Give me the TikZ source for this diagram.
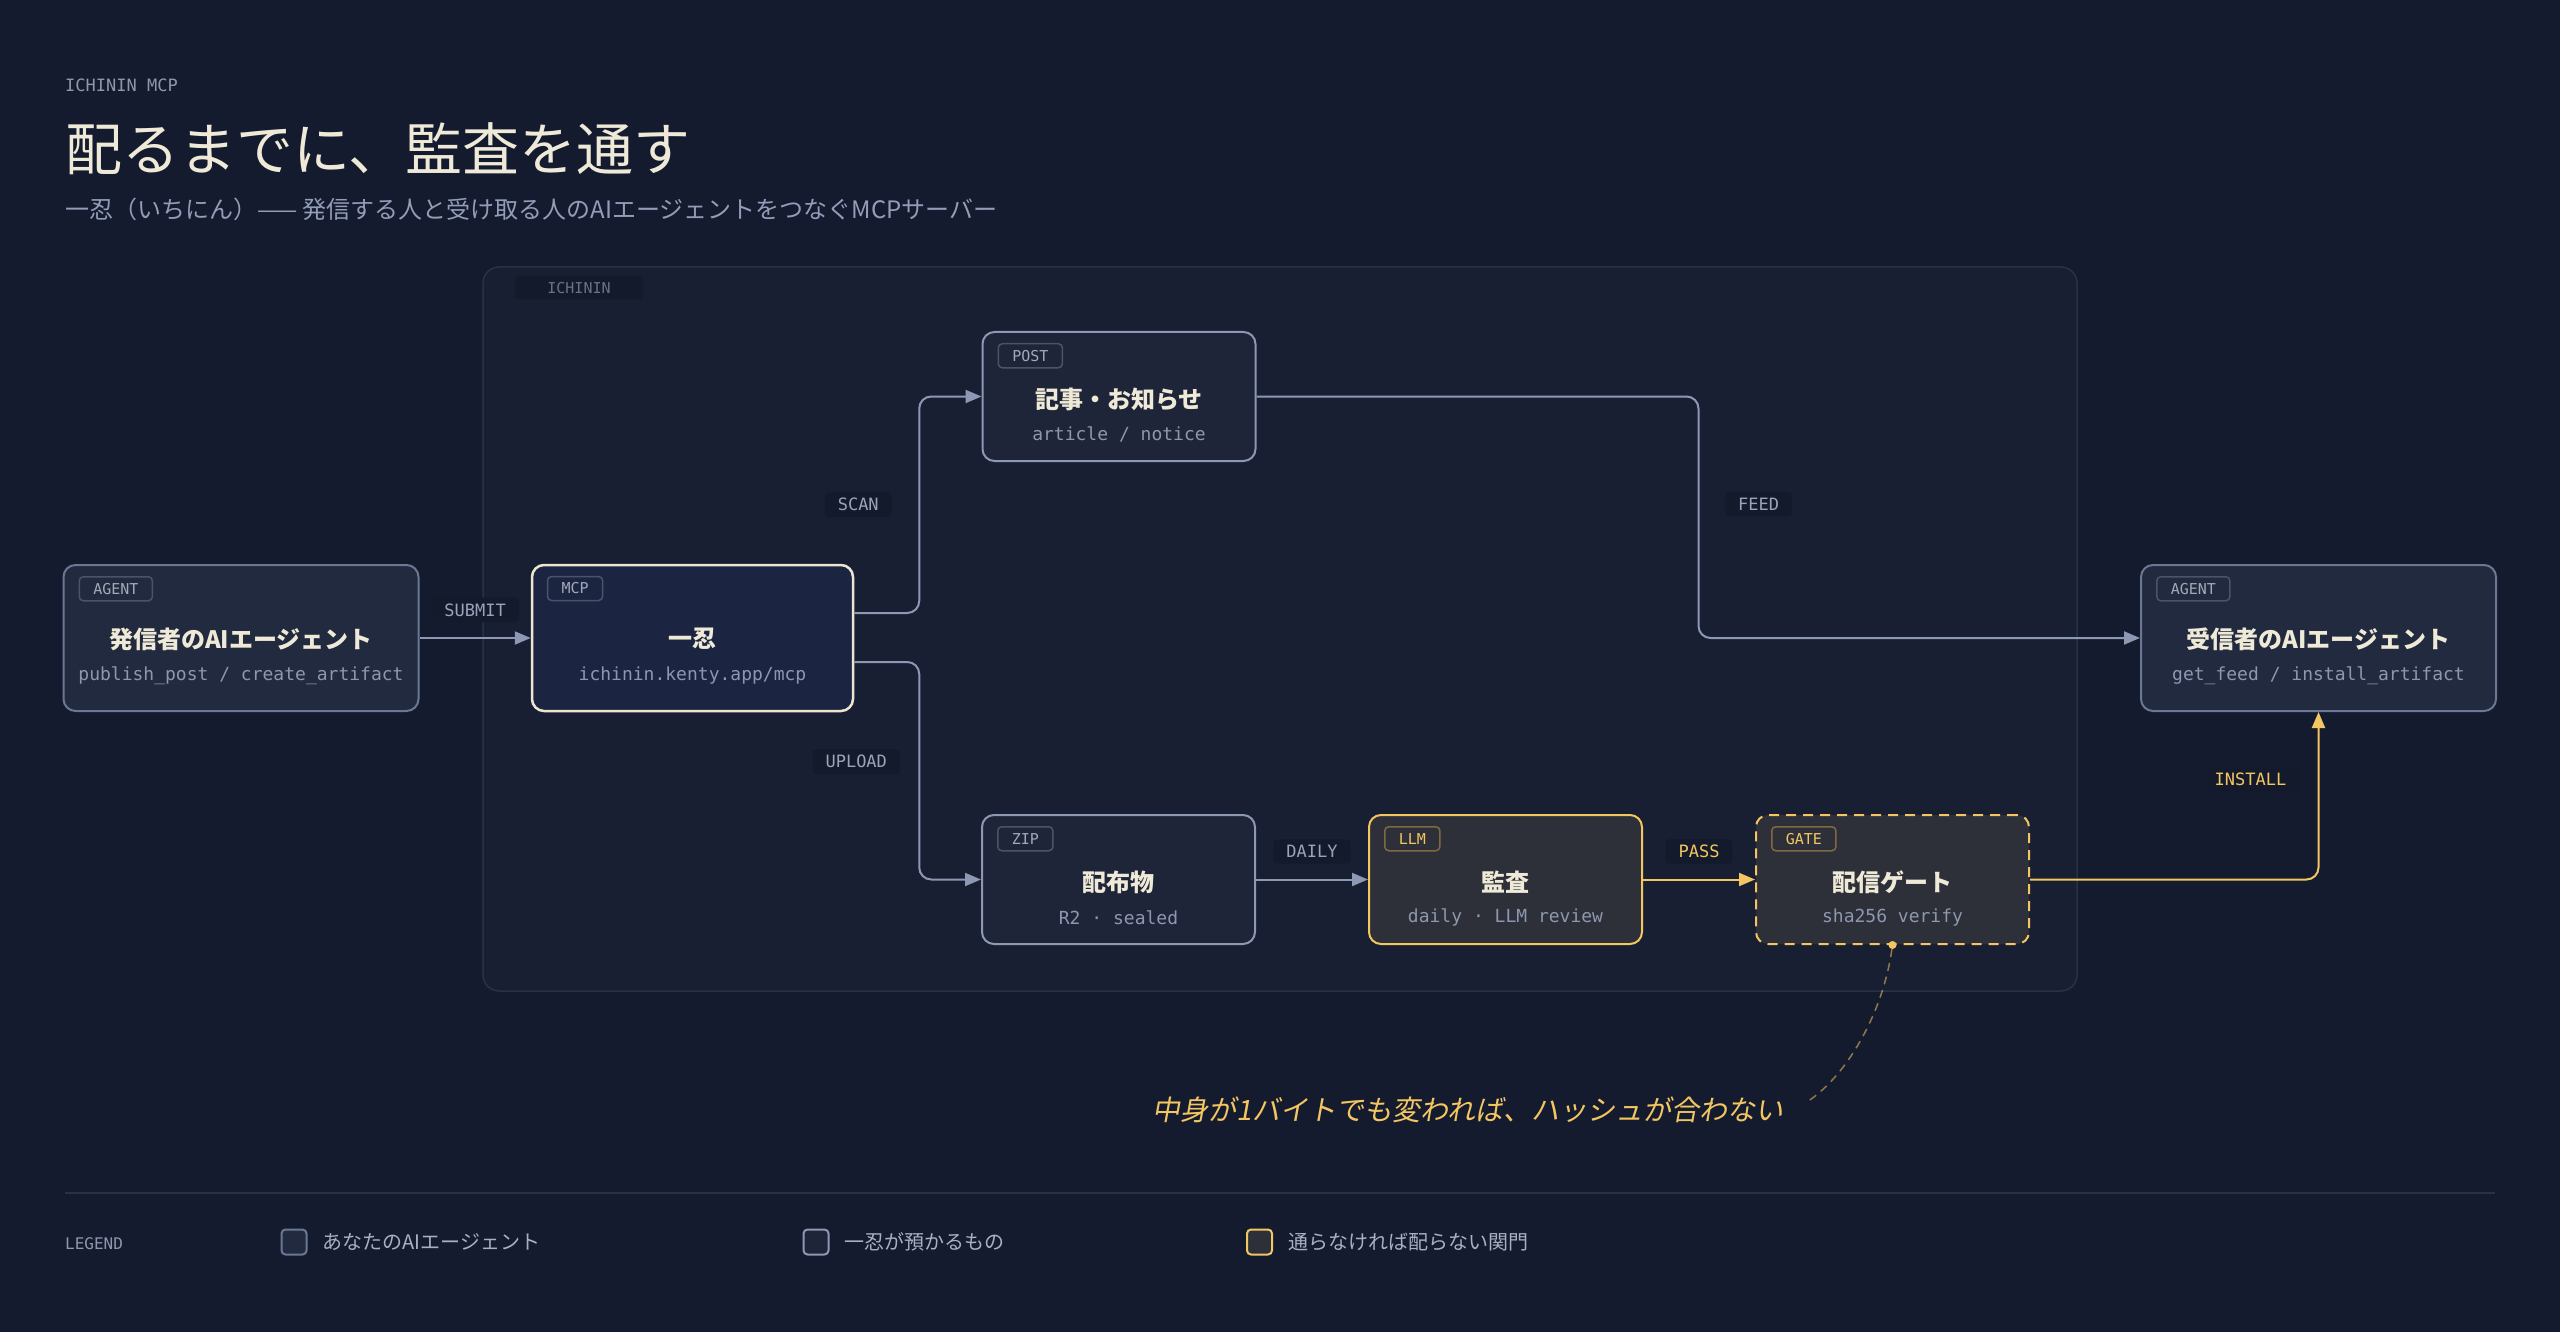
\documentclass[tikz,border=0pt]{standalone}
\usepackage{fontspec}
\setmainfont{Noto Sans CJK JP}
\setmonofont{DejaVu Sans Mono}
\newfontfamily\notefont[FakeSlant=0.18]{Noto Sans CJK JP}
\usetikzlibrary{positioning, calc, arrows.meta}

\definecolor{pagebg}{HTML}{141B2F}
\definecolor{framefill}{HTML}{181F33}
\definecolor{frameline}{HTML}{293145}
\definecolor{agentfill}{HTML}{212A3E}
\definecolor{agentline}{HTML}{6B7794}
\definecolor{mcpfill}{HTML}{1B2541}
\definecolor{mcpline}{HTML}{ECE5D1}
\definecolor{holdfill}{HTML}{1F2538}
\definecolor{holdline}{HTML}{8D98B3}
\definecolor{gatefill}{HTML}{2D3039}
\definecolor{gateline}{HTML}{F4C662}
\definecolor{tagline}{HTML}{4A5468}
\definecolor{gatetagline}{HTML}{7D6A45}
\definecolor{tagtext}{HTML}{A3A9B8}
\definecolor{cream}{HTML}{EFE9D8}
\definecolor{subtext}{HTML}{8D97B0}
\definecolor{flowc}{HTML}{8C98B4}
\definecolor{lbltext}{HTML}{9AA3BB}
\definecolor{lblbg}{HTML}{131A2C}
\definecolor{kickertext}{HTML}{8E97AD}
\definecolor{leadtext}{HTML}{939DB8}
\definecolor{legtext}{HTML}{A9B0C2}

\tikzset{
  card/.style={draw, rounded corners=12pt, line width=2pt, minimum width=273pt,
    minimum height=129pt, inner sep=0pt},
  agentcard/.style={card, fill=agentfill, draw=agentline, minimum width=355pt, minimum height=146pt},
  mcpcard/.style={card, fill=mcpfill, draw=mcpline, line width=2.5pt, minimum width=321pt, minimum height=146pt},
  holdcard/.style={card, fill=holdfill, draw=holdline},
  gatecard/.style={card, fill=gatefill, draw=gateline},
  tag/.style={draw=tagline, rounded corners=4pt, line width=1.5pt, anchor=north west,
    font=\ttfamily\fontsize{15}{15}\selectfont, text=tagtext, inner xsep=14pt, inner ysep=0pt,
    minimum height=24pt},
  gatetag/.style={tag, draw=gatetagline, text=gateline},
  ttl/.style={font=\bfseries\fontsize{24}{24}\selectfont, text=cream},
  sub/.style={font=\ttfamily\fontsize{18}{18}\selectfont, text=subtext},
  flow/.style={draw=flowc, line width=2pt, rounded corners=12pt, -{Triangle[length=16pt,width=13pt]}},
  passflow/.style={flow, draw=gateline},
  lbl/.style={fill=lblbg, rounded corners=4pt, text=lbltext, font=\ttfamily\fontsize{17}{17}\selectfont,
    inner xsep=13pt, inner ysep=6pt},
  passlbl/.style={lbl, text=gateline},
  note/.style={draw=gateline, draw opacity=0.55, line width=1.5pt, dash pattern=on 8pt off 6pt},
  legbox/.style={minimum size=25pt, rounded corners=4pt, line width=2pt, inner sep=0pt},
  legtext/.style={anchor=west, inner sep=0pt, text=legtext, font=\fontsize{20}{20}\selectfont},
}

\begin{document}
\begin{tikzpicture}[x=1pt, y=-1pt]
  \useasboundingbox (0,0) rectangle (2560,1332);
  \fill[pagebg] (0,0) rectangle (2560,1332);

  % heading
  \node[anchor=west, inner sep=0pt, text=kickertext, font=\ttfamily\fontsize{17}{17}\selectfont] (kicker) at (65,85) {ICHININ MCP};
  \node[anchor=west, inner sep=0pt, text=cream, font=\fontsize{57}{60}\selectfont] (headline) at (65,149) {配るまでに、監査を通す};
  \node[anchor=west, inner sep=0pt, text=leadtext, font=\fontsize{24}{26}\selectfont] (lead) at (65,209) {一忍（いちにん）—— 発信する人と受け取る人のAIエージェントをつなぐMCPサーバー};

  % ichinin frame
  \node[draw=frameline, fill=framefill, rounded corners=16pt, line width=1.5pt, minimum width=1594pt, minimum height=724pt] (ichinin) at (1280,629) {};
  \node[fill=lblbg, rounded corners=3pt, text=tagtext!60!framefill, font=\ttfamily\fontsize{15}{15}\selectfont, minimum width=128pt, minimum height=23pt, inner sep=0pt] (ichininlbl) at (579,288) {ICHININ};

  % cards
  \node[agentcard] (sender) at (241,638) {};
  \node[tag] (sendertag) at ([xshift=16pt,yshift=-12pt]sender.north west) {AGENT};
  \node[ttl] (sendertitle) at ([yshift=-1pt]sender.center) {発信者のAIエージェント};
  \node[sub] (sendersub) at ([yshift=-38pt]sender.center) {publish\_post / create\_artifact};

  \node[mcpcard] (mcp) at (692.5,638) {};
  \node[tag] (mcptag) at ([xshift=16pt,yshift=-12pt]mcp.north west) {MCP};
  \node[ttl] (mcptitle) at ([yshift=-1pt]mcp.center) {一忍};
  \node[sub] (mcpsub) at ([yshift=-38pt]mcp.center) {ichinin.kenty.app/mcp};

  \node[holdcard] (post) at (1119,396.5) {};
  \node[tag] (posttag) at ([xshift=16pt,yshift=-12pt]post.north west) {POST};
  \node[ttl] (posttitle) at ([yshift=-3pt]post.center) {記事・お知らせ};
  \node[sub] (postsub) at ([yshift=-38pt]post.center) {article / notice};

  \node[holdcard] (zip) at (1118.5,879.5) {};
  \node[tag] (ziptag) at ([xshift=16pt,yshift=-12pt]zip.north west) {ZIP};
  \node[ttl] (ziptitle) at ([yshift=-3pt]zip.center) {配布物};
  \node[sub] (zipsub) at ([yshift=-38pt]zip.center) {R2 · sealed};

  \node[gatecard] (llm) at (1505.5,879.5) {};
  \node[gatetag] (llmtag) at ([xshift=16pt,yshift=-12pt]llm.north west) {LLM};
  \node[ttl] (llmtitle) at ([yshift=-3pt]llm.center) {監査};
  \node[sub] (llmsub) at ([yshift=-38pt]llm.center) {daily · LLM review};

  \node[gatecard, dash pattern=on 10pt off 7pt] (gate) at (1892.5,879.5) {};
  \node[gatetag] (gatetag) at ([xshift=16pt,yshift=-12pt]gate.north west) {GATE};
  \node[ttl] (gatetitle) at ([yshift=-3pt]gate.center) {配信ゲート};
  \node[sub] (gatesub) at ([yshift=-38pt]gate.center) {sha256 verify};

  \node[agentcard] (receiver) at (2318.5,638) {};
  \node[tag] (receivertag) at ([xshift=16pt,yshift=-12pt]receiver.north west) {AGENT};
  \node[ttl] (receivertitle) at ([yshift=-1pt]receiver.center) {受信者のAIエージェント};
  \node[sub] (receiversub) at ([yshift=-38pt]receiver.center) {get\_feed / install\_artifact};

  % connectors
  \draw[flow] (sender) -- node[lbl, yshift=28pt] (lsubmit) {SUBMIT} (mcp);
  \draw[flow] ([yshift=25pt]mcp.east) -- ++(65,0) |- node[lbl, pos=0.25, xshift=-61pt] (lscan) {SCAN} (post.west);
  \draw[flow] ([yshift=-24pt]mcp.east) -- ++(65,0) |- node[lbl, pos=0.25, xshift=-63pt, yshift=9pt] (lupload) {UPLOAD} (zip.west);
  \draw[flow] (post.east) -- ++(442,0) |- node[lbl, pos=0.25, xshift=60pt, yshift=13pt] (lfeed) {FEED} (receiver.west);
  \draw[flow] (zip) -- node[lbl, yshift=28pt] (ldaily) {DAILY} (llm);
  \draw[passflow] (llm) -- node[passlbl, yshift=28pt] (lpass) {PASS} (gate);
  \draw[passflow] (gate.east) -| node[passlbl, pos=0.75, xshift=-68pt, yshift=16pt] (linstall) {INSTALL} (receiver.south);

  % hash note
  \node[circle, fill=gateline, minimum size=8pt, inner sep=0pt] (gatedot) at (gate.south) {};
  \node[inner sep=0pt, text=gateline, font=\notefont\fontsize{28}{30}\selectfont] (hashnote) at (1468,1110) {中身が1バイトでも変われば、ハッシュが合わない};
  \draw[note] (gatedot) .. controls +(-10,70) and +(40,-25) .. ([xshift=22pt,yshift=7pt]hashnote.east);

  % legend
  \draw[frameline, line width=2pt] (65,1193) -- (2495,1193);
  \node[anchor=west, inner sep=0pt, text=kickertext, font=\ttfamily\fontsize{16}{16}\selectfont] (legendlbl) at (65,1244) {LEGEND};
  \node[legbox, fill=agentfill, draw=agentline] (legagent) at (294,1242) {};
  \node[legtext] (legagenttext) at ([xshift=15pt]legagent.east) {あなたのAIエージェント};
  \node[legbox, fill=holdfill, draw=holdline] (leghold) at (816,1242) {};
  \node[legtext] (legholdtext) at ([xshift=15pt]leghold.east) {一忍が預かるもの};
  \node[legbox, fill=gatefill, draw=gateline] (leggate) at (1259.5,1242) {};
  \node[legtext] (leggatetext) at ([xshift=15pt]leggate.east) {通らなければ配らない関門};
\end{tikzpicture}
\end{document}
